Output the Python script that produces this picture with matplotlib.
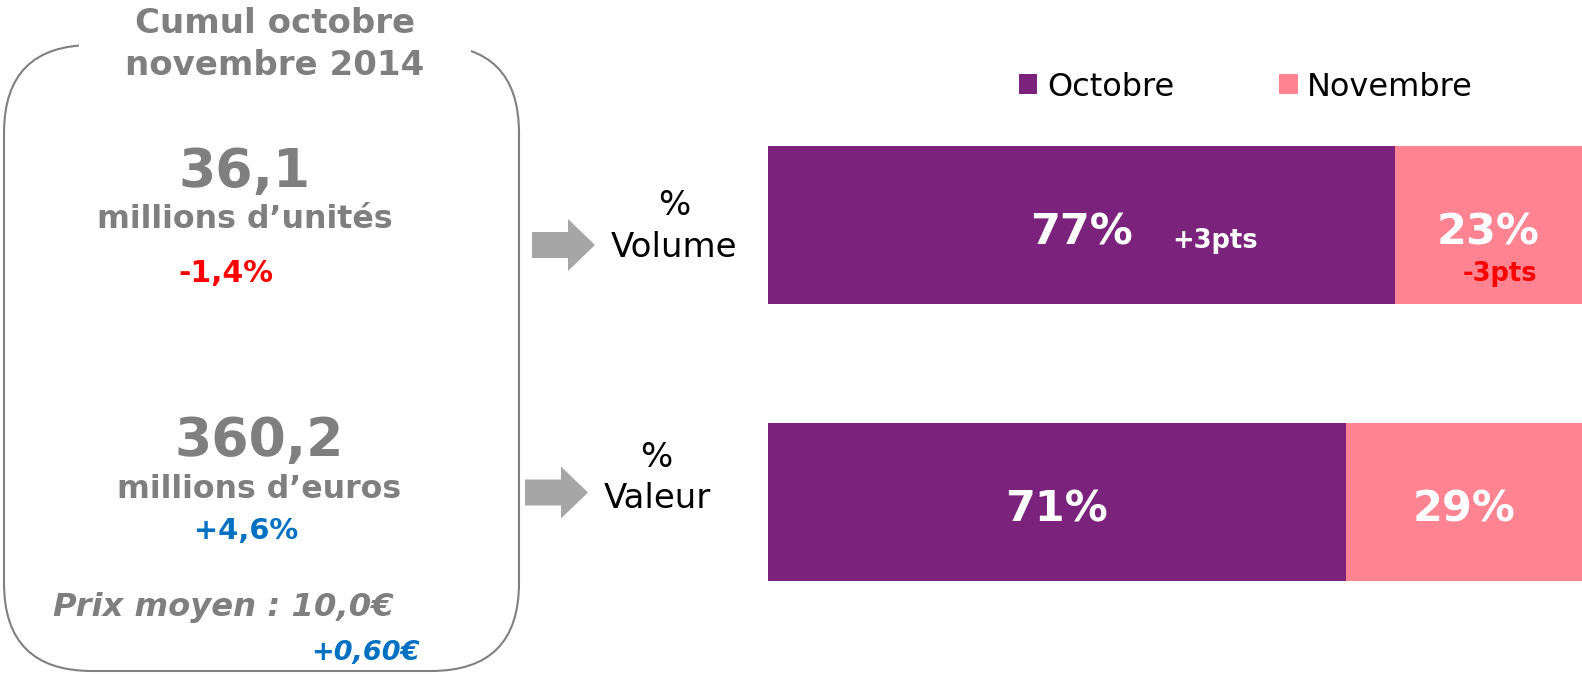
import matplotlib.pyplot as plt
from matplotlib.patches import FancyBboxPatch, Rectangle, FancyArrow

# data
measures = ["% \nVolume", "%\nValeur"]
months = ["Octobre", "Novembre"]
octobre = [77, 71]
novembre = [23, 29]
share_labels = [["77%", "23%"], ["71%", "29%"]]
deltas = [["+3pts", "-3pts"], ["", ""]]

colors = ["#7B237C", "#FF8390"]
gray = "#7F7F7F"
blue = "#0070C0"

fig = plt.figure(figsize=(15.82, 6.74), dpi=100)

# pixel overlay for the left panel and arrows
ov = fig.add_axes([0, 0, 1, 1])
ov.set_xlim(0, 1582)
ov.set_ylim(674, 0)
ov.axis("off")

box = FancyBboxPatch((4, 45), 515, 626, boxstyle="round,pad=0,rounding_size=88",
                     fc="none", ec="#808080", lw=1.5, zorder=2)
ov.add_patch(box)
ov.add_patch(Rectangle((79, 0), 392, 57, fc="white", ec="none", zorder=3))

ov.text(275, 33, "Cumul octobre", ha="center", va="baseline", fontsize=24.5,
        fontweight="bold", color=gray, zorder=4)
ov.text(275, 75, "novembre 2014", ha="center", va="baseline", fontsize=24.5,
        fontweight="bold", color=gray, zorder=4)

ov.text(244, 187, "36,1", ha="center", va="baseline", fontsize=38.5,
        fontweight="bold", color=gray)
ov.text(245, 228, "millions d\u2019unités", ha="center", va="baseline",
        fontsize=22.8, fontweight="bold", color=gray)
ov.text(226, 282, "-1,4%", ha="center", va="baseline", fontsize=21.5,
        fontweight="bold", color="#FF0000")

ov.text(259, 456, "360,2", ha="center", va="baseline", fontsize=38.5,
        fontweight="bold", color=gray)
ov.text(259, 498, "millions d\u2019euros", ha="center", va="baseline",
        fontsize=22.7, fontweight="bold", color=gray)
ov.text(246, 539, "+4,6%", ha="center", va="baseline", fontsize=20.8,
        fontweight="bold", color=blue)

ov.text(223, 616, "Prix moyen : 10,0€", ha="center", va="baseline",
        fontsize=23.2, fontweight="bold", fontstyle="italic", color=gray)
ov.text(365, 660, "+0,60€", ha="center", va="baseline", fontsize=19.5,
        fontweight="bold", fontstyle="italic", color=blue)

# arrows and row titles
ov.add_patch(FancyArrow(532, 245, 63, 0, width=26, head_width=52, head_length=27,
                        length_includes_head=True, fc="#A6A6A6", ec="none"))
ov.add_patch(FancyArrow(525, 492.5, 63, 0, width=26, head_width=52, head_length=27,
                        length_includes_head=True, fc="#A6A6A6", ec="none"))
ov.text(674, 215, "%", ha="center", va="baseline", fontsize=24.5)
ov.text(674, 257, "Volume", ha="center", va="baseline", fontsize=24.5)
ov.text(656, 467, "%", ha="center", va="baseline", fontsize=24.5)
ov.text(657, 508, "Valeur", ha="center", va="baseline", fontsize=24.5)

# stacked bars
ax = fig.add_axes([768 / 1582, 93 / 674, 814 / 1582, 435 / 674])
ypos = list(range(len(measures)))
b1 = ax.barh(ypos, octobre, height=0.57, color=colors[0], label=months[0])
b2 = ax.barh(ypos, novembre, left=octobre, height=0.57, color=colors[1],
             label=months[1])
ax.set_xlim(0, 100)
ax.set_ylim(1.285, -0.285)
ax.axis("off")

for i in ypos:
    lefts = [0, octobre[i]]
    widths = [octobre[i], novembre[i]]
    for j in range(2):
        cx = lefts[j] + widths[j] / 2
        ax.annotate(share_labels[i][j], (cx, i), xytext=(0, -5.5),
                    textcoords="offset points", ha="center", va="center",
                    fontsize=31, fontweight="bold", color="white")
    if deltas[i][0]:
        ax.annotate(deltas[i][0], (octobre[i] / 2, i), xytext=(96, -11.5),
                    textcoords="offset points", ha="center", va="center",
                    fontsize=18.5, fontweight="bold", color="white")
    if deltas[i][1]:
        cx = octobre[i] + novembre[i] / 2
        ax.annotate(deltas[i][1], (cx, i), xytext=(8, -35),
                    textcoords="offset points", ha="center", va="center",
                    fontsize=18.5, fontweight="bold", color="#FF0000")

ax.legend(handles=[b1, b2], labels=months, loc="center left",
          bbox_to_anchor=(1019 / 1582, 1 - 87 / 674), bbox_transform=fig.transFigure,
          ncol=2, frameon=False, fontsize=23, handlelength=0.57, handleheight=0.57,
          handletextpad=0.3, columnspacing=3.3, borderpad=0, borderaxespad=0)

fig.savefig("out.png", dpi=100)
